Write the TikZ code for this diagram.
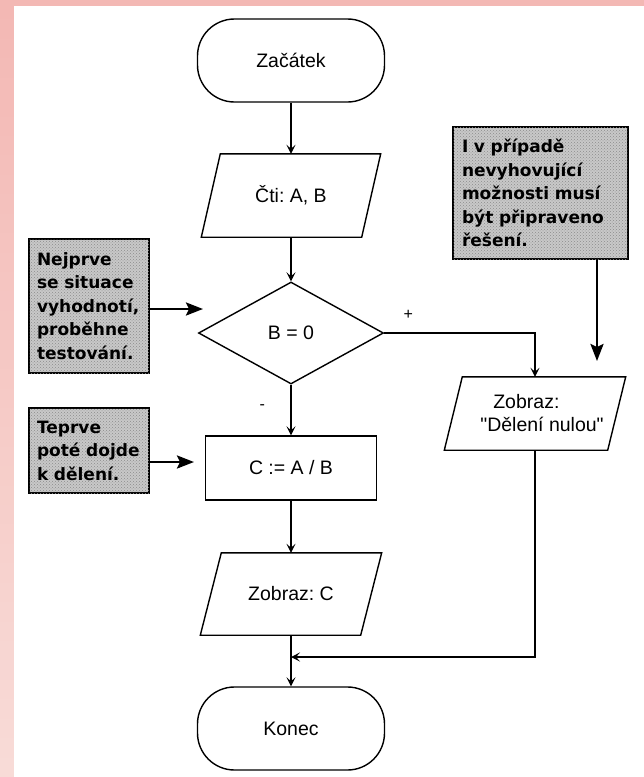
\documentclass[tikz,border=0pt]{standalone}
\usepackage{fontspec}
\setmainfont{Liberation Sans}[Ligatures=TeXOff]
\newfontfamily\notefont{DejaVu Sans}
\usetikzlibrary{shapes.geometric,arrows.meta,patterns}

\definecolor{bandtop}{RGB}{243,184,180}
\definecolor{bandbot}{RGB}{248,219,215}
\definecolor{notefill}{RGB}{200,200,200}

\begin{document}
\frenchspacing
\begin{tikzpicture}[x=1pt,y=-1pt,
  every node/.style={font=\fontsize{19.5}{23}\selectfont},
  flow/.style={line width=1.2pt,-{Stealth[length=9pt,width=9pt,inset=4pt]}},
  outline/.style={line width=1.4pt},
  term/.style={outline,draw,rectangle,rounded corners=37pt,minimum width=187pt,minimum height=83pt},
  proc/.style={outline,draw,rectangle,minimum width=171pt,minimum height=64pt},
  io/.style={rectangle,minimum width=160pt,minimum height=83pt,align=center},
  test/.style={outline,draw,diamond,minimum width=185pt,minimum height=102pt,inner sep=0pt},
  note/.style={draw,line width=2.5pt,fill=notefill,
    postaction={pattern=crosshatch dots,pattern color=black!45},
    align=left,inner xsep=8pt,inner ysep=4pt,
    font=\notefont\fontsize{17}{23.5}\selectfont\bfseries},
  pointer/.style={line width=2.6pt,-{Stealth[length=17pt,width=13pt,inset=3pt]}},
  mark label/.style={font=\fontsize{16}{18}\selectfont},
]
% page and coloured edge bands
\useasboundingbox (0,0) rectangle (644,777);
\fill[white] (0,0) rectangle (644,777);
\fill[bandtop] (0,0) rectangle (644,6);
\foreach \i in {0,...,39}{
  \pgfmathsetmacro\p{100-\i*100/39}
  \pgfmathsetmacro\ya{\i*19.425}
  \pgfmathsetmacro\yb{\i*19.425+19.925}
  \fill[bandtop!\p!bandbot] (0,\ya) rectangle (14,\yb);
}

% main flow
\node[term] (start) at (291,60.5) {Začátek};
\node[io] (read) at (291,195.5) {Čti: A, B};
\node[test] (check) at (291,333) {B = 0};
\node[proc] (calc) at (291,468) {C := A / B};
\node[io,minimum height=82pt] (showc) at (291,594) {Zobraz: C};
\node[term] (stop) at (291,728.5) {Konec};
\node[io,minimum width=163pt,minimum height=73pt,align=left] (showerr) at (535,413.5)
  {\hspace*{27pt}Zobraz:\\\hspace*{14pt}"Dělení nulou"};

% parallelogram outlines of the input/output nodes
\foreach \n/\s in {read/9.5,showc/10.5,showerr/9}{
  \draw[outline] ([xshift=\s pt]\n.north west) -- ([xshift=\s pt]\n.north east)
    -- ([xshift=-\s pt]\n.south east) -- ([xshift=-\s pt]\n.south west) -- cycle;
}

\coordinate (merge) at (291,657);
\draw[flow] (start.south) -- (read.north);
\draw[flow] (read.south) -- (check.north);
\draw[flow] (check.south) -- node[mark label,pos=0.45,left=22pt] {-} (calc.north);
\draw[flow] (calc.south) -- (showc.north);
\draw[flow] (showc.south) -- (stop.north);
\draw[flow] (check.east) -| node[mark label,pos=0.08,above=10pt] {+} (showerr.north);
\draw[flow] (showerr.south) |- (merge);

% explanatory notes
\node[note,minimum width=120pt,minimum height=134pt,text width=104pt] (n1) at (89,306)
  {Nejprve\\se situace\\vyhodnotí,\\proběhne\\testování.};
\node[note,minimum width=120pt,minimum height=85pt,text width=104pt] (n2) at (89,450.5)
  {Teprve\\poté dojde\\k dělení.};
\node[note,minimum width=175pt,minimum height=132pt,text width=157pt,inner xsep=9pt] (n3) at (540.5,193)
  {I v případě\\nevyhovující\\možnosti musí\\být připraveno\\řešení.};

\coordinate (t1) at (203,309);
\coordinate (t2) at (194,462);
\coordinate (t3) at (597,361);
\draw[pointer] (n1.east |- t1) -- (t1);
\draw[pointer] (n2.east |- t2) -- (t2);
\draw[pointer] (n3.south -| t3) -- (t3);
\end{tikzpicture}
\end{document}
